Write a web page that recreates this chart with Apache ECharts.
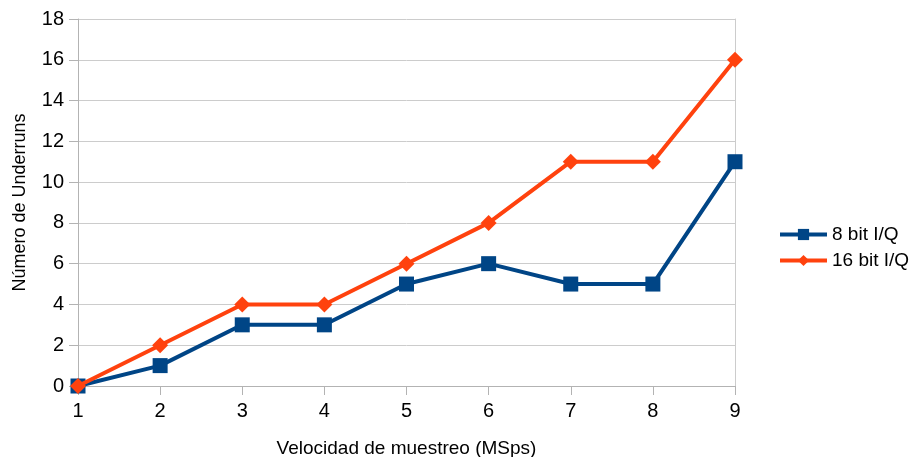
<!DOCTYPE html>
<html>
<head>
<meta charset="utf-8">
<script src="https://cdn.jsdelivr.net/npm/echarts@6/dist/echarts.min.js"></script>
<style>
  html, body { margin: 0; padding: 0; background: #fff; }
  #chart { width: 920px; height: 457px; }
</style>
</head>
<body>
<div id="chart"></div>
<script>
// Sampling rate (MSps) on the x axis
const rates = [1, 2, 3, 4, 5, 6, 7, 8, 9];
// Underrun counts per sample format
const underruns8 = [0, 1, 3, 3, 5, 6, 5, 5, 11];
const underruns16 = [0, 2, 4, 4, 6, 8, 11, 11, 16];
const seriesNames = ['8 bit I/Q', '16 bit I/Q'];

const font = 'Liberation Sans, Arial, sans-serif';
const chart = echarts.init(document.getElementById('chart'));

chart.setOption({
  animation: false,
  grid: { left: 78, right: 185, top: 19, bottom: 71, outerBoundsMode: 'none', containLabel: false },
  legend: {
    orient: 'vertical',
    left: 773,
    top: 220,
    itemWidth: 47,
    itemHeight: 14,
    itemGap: 7,
    lineStyle: { width: 4 },
    textStyle: { fontFamily: font, fontSize: 19, color: '#000' },
    data: seriesNames
  },
  xAxis: {
    type: 'value',
    min: 1, max: 9, interval: 1,
    name: 'Velocidad de muestreo (MSps)',
    nameLocation: 'middle',
    nameGap: 53,
    nameTextStyle: { fontFamily: font, fontSize: 19, color: '#000' },
    axisLine: { lineStyle: { color: '#b3b3b3' } },
    axisTick: { show: true, length: 9, lineStyle: { color: '#b3b3b3' } },
    axisLabel: { fontFamily: font, fontSize: 20, color: '#000', margin: 15 },
    splitLine: { show: false }
  },
  yAxis: [{
    type: 'value',
    min: 0, max: 18, interval: 2,
    name: 'Número de Underruns',
    nameLocation: 'middle',
    nameGap: 49,
    nameTextStyle: { fontFamily: font, fontSize: 18, color: '#000' },
    axisLine: { show: true, lineStyle: { color: '#b3b3b3' } },
    axisTick: { show: true, length: 9, lineStyle: { color: '#b3b3b3' } },
    axisLabel: { fontFamily: font, fontSize: 20, color: '#000', margin: 14 },
    splitLine: { lineStyle: { color: '#cccccc' } }
  }, {
    type: 'value',
    position: 'right',
    min: 0, max: 18, interval: 2,
    axisLine: { show: true, lineStyle: { color: '#cccccc' } },
    axisTick: { show: false },
    axisLabel: { show: false },
    splitLine: { show: false }
  }],
  series: [{
    name: seriesNames[0],
    type: 'line',
    data: rates.map((r, i) => [r, underruns8[i]]),
    symbol: 'rect',
    symbolSize: 15,
    lineStyle: { width: 4, color: '#004586' },
    itemStyle: { color: '#004586' },
    z: 2
  }, {
    name: seriesNames[1],
    type: 'line',
    data: rates.map((r, i) => [r, underruns16[i]]),
    symbol: 'diamond',
    symbolSize: 16,
    lineStyle: { width: 4, color: '#ff420e' },
    itemStyle: { color: '#ff420e' },
    z: 3
  }]
});
</script>
</body>
</html>
